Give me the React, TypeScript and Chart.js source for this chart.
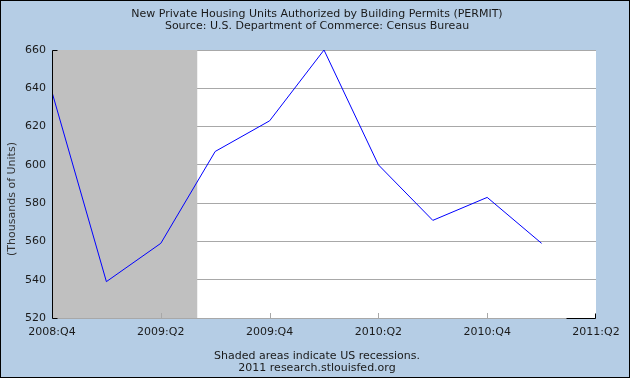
import React, { useEffect, useRef } from "react";
import { Chart, registerables } from "chart.js";

Chart.register(...registerables);

const quarters = ["2008:Q4", "2009:Q1", "2009:Q2", "2009:Q3", "2009:Q4", "2010:Q1", "2010:Q2", "2010:Q3", "2010:Q4", "2011:Q1"];
const permits = [638, 539, 559, 607, 623, 660, 600, 571, 583, 559];
const xTickLabels = ["2008:Q4", "2009:Q2", "2009:Q4", "2010:Q2", "2010:Q4", "2011:Q2"];
const yMin = 520;
const yMax = 660;
const yStep = 20;
const recessionStart = 0;
const recessionEnd = 2.67;
const titleLines = [
  "New Private Housing Units Authorized by Building Permits (PERMIT)",
  "Source: U.S. Department of Commerce: Census Bureau",
];
const footerLines = ["Shaded areas indicate US recessions.", "2011 research.stlouisfed.org"];
const yAxisTitle = "(Thousands of Units)";

const FONT = "11px 'DejaVu Sans', sans-serif";
const BG = "#B5CDE5";

const decorPlugin = {
  id: "decor",
  beforeDraw(chart: any) {
    const { ctx, chartArea } = chart;
    ctx.save();
    ctx.fillStyle = BG;
    ctx.fillRect(0, 0, chart.width, chart.height);
    ctx.fillStyle = "#FFFFFF";
    ctx.fillRect(chartArea.left, chartArea.top, chartArea.right - chartArea.left, chartArea.bottom - chartArea.top);
    ctx.restore();
  },
  beforeDatasetsDraw(chart: any) {
    const { ctx, chartArea, scales } = chart;
    const x0 = Math.max(chartArea.left, scales.x.getPixelForValue(recessionStart));
    const x1 = scales.x.getPixelForValue(recessionEnd);
    ctx.save();
    ctx.fillStyle = "#C0C0C0";
    ctx.fillRect(x0, chartArea.top, x1 - x0, chartArea.bottom - chartArea.top);
    // bottom axis line (gray)
    ctx.strokeStyle = "#A8A8A8";
    ctx.lineWidth = 1;
    ctx.beginPath();
    ctx.moveTo(chartArea.left, Math.round(chartArea.bottom) + 0.5);
    ctx.lineTo(chartArea.right, Math.round(chartArea.bottom) + 0.5);
    ctx.stroke();
    // x tick marks (gray, inward)
    scales.x.ticks.forEach((t: any) => {
      const px = Math.round(scales.x.getPixelForValue(t.value)) + 0.5;
      if (t.value === scales.x.min || t.value === scales.x.max) return;
      ctx.beginPath();
      ctx.moveTo(px, chartArea.bottom);
      ctx.lineTo(px, chartArea.bottom - 5);
      ctx.stroke();
    });
    ctx.restore();
  },
  afterDraw(chart: any) {
    const { ctx, chartArea } = chart;
    ctx.save();
    // left axis
    ctx.strokeStyle = "#000000";
    ctx.lineWidth = 1;
    const lx = Math.round(chartArea.left) + 0.5;
    const top = Math.round(chartArea.top) + 0.5;
    const bot = Math.round(chartArea.bottom) + 0.5;
    ctx.beginPath();
    ctx.moveTo(lx + 5, top);
    ctx.lineTo(lx, top);
    ctx.lineTo(lx, bot);
    ctx.lineTo(lx + 5, bot);
    ctx.stroke();
    // bottom-right black segment
    const rx = Math.round(chartArea.right) - 0.5;
    ctx.beginPath();
    ctx.moveTo(rx - 29, bot);
    ctx.lineTo(rx, bot);
    ctx.lineTo(rx, bot - 5);
    ctx.stroke();

    ctx.fillStyle = "#1A1A1A";
    ctx.font = FONT;
    ctx.textAlign = "center";
    ctx.textBaseline = "middle";
    ctx.fillText(titleLines[0], 317, 14);
    ctx.fillText(titleLines[1], 317, 26);
    ctx.fillText(footerLines[0], 317, 356);
    ctx.fillText(footerLines[1], 317, 368);

    ctx.translate(12, 199);
    ctx.rotate(-Math.PI / 2);
    ctx.fillStyle = "#333333";
    ctx.fillText(yAxisTitle, 0, 0);
    ctx.restore();

    // border
    ctx.save();
    ctx.strokeStyle = "#000000";
    ctx.lineWidth = 1;
    ctx.strokeRect(0.5, 0.5, chart.width - 1, chart.height - 1);
    ctx.restore();
  },
};

export default function App() {
  const ref = useRef<HTMLCanvasElement>(null);
  useEffect(() => {
    document.body.style.margin = "0";
    const chart = new Chart(ref.current as HTMLCanvasElement, {
      type: "line",
      data: {
        datasets: [
          {
            label: "PERMIT",
            data: permits.map((v, i) => ({ x: i, y: v })),
            borderColor: "#0000FF",
            borderWidth: 1,
            pointRadius: 0,
            tension: 0,
            fill: false,
          },
        ],
      },
      options: {
        animation: false,
        responsive: false,
        devicePixelRatio: 1,
        events: [],
        layout: { padding: { left: 0, right: 34, top: 50, bottom: 0 } },
        plugins: { legend: { display: false }, tooltip: { enabled: false }, title: { display: false } },
        scales: {
          x: {
            type: "linear",
            min: 0,
            max: quarters.length,
            grid: { display: false, drawTicks: false },
            border: { display: false },
            afterFit: (s: any) => {
              s.height = 60;
            },
            ticks: {
              stepSize: 2,
              autoSkip: false,
              maxRotation: 0,
              padding: 8,
              color: "#1A1A1A",
              font: { family: "'DejaVu Sans', sans-serif", size: 11 },
              callback: (v: any) => xTickLabels[Math.round(Number(v) / 2)] ?? "",
            },
          },
          y: {
            min: yMin,
            max: yMax,
            grid: { color: "#A8A8A8", lineWidth: 1, drawTicks: false },
            border: { display: false },
            afterFit: (s: any) => {
              s.width = 52;
            },
            ticks: {
              stepSize: yStep,
              padding: 6,
              color: "#1A1A1A",
              font: { family: "'DejaVu Sans', sans-serif", size: 11 },
            },
          },
        },
      },
      plugins: [decorPlugin],
    });
    return () => chart.destroy();
  }, []);
  return (
    <div style={{ position: "fixed", left: 0, top: 0, width: 630, height: 378 }}>
      <canvas ref={ref} width={630} height={378} style={{ width: 630, height: 378 }} />
    </div>
  );
}
